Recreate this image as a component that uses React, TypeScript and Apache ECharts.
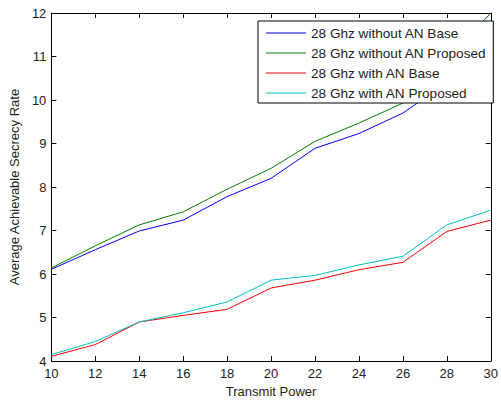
import React, { useEffect, useRef } from "react";
import * as echarts from "echarts";

const xValues = [10, 12, 14, 16, 18, 20, 22, 24, 26, 28, 30];
const withoutANBase = [6.11, 6.56, 6.99, 7.24, 7.78, 8.2, 8.89, 9.23, 9.7, 10.4, 11.09];
const withoutANProposed = [6.14, 6.65, 7.13, 7.43, 7.95, 8.43, 9.05, 9.47, 9.93, 10.9, 12.0];
const withANBase = [4.11, 4.38, 4.9, 5.05, 5.19, 5.68, 5.86, 6.1, 6.27, 6.98, 7.24];
const withANProposed = [4.15, 4.45, 4.9, 5.11, 5.36, 5.86, 5.97, 6.21, 6.41, 7.13, 7.47];
const seriesNames = [
  "28 Ghz without AN Base",
  "28 Ghz without AN Proposed",
  "28 Ghz with AN Base",
  "28 Ghz with AN Proposed",
];
const seriesColors = ["#0000ff", "#008000", "#ff0000", "#00bfbf"];

const FONT = "Liberation Sans";

export default function App() {
  const ref = useRef<HTMLDivElement>(null);
  useEffect(() => {
    document.body.style.margin = "0";
    const chart = echarts.init(ref.current!, null, { renderer: "svg" });
    const all = [withoutANBase, withoutANProposed, withANBase, withANProposed];
    const tickStyle = { show: true, inside: true, length: 5, lineStyle: { color: "#000", width: 1 } };
    const lineStyle = { color: "#000", width: 1 };
    chart.setOption({
      animation: false,
      backgroundColor: "#fff",
      textStyle: { fontFamily: FONT },
      grid: { left: 49, right: 5, top: 13, bottom: 37 },
      legend: {
        orient: "vertical",
        left: 258,
        top: 21,
        padding: [5, 7, 3, 8],
        itemGap: 6,
        itemWidth: 40,
        itemHeight: 1.2,
        icon: "rect",
        backgroundColor: "#fff",
        borderColor: "#000",
        borderWidth: 1,
        textStyle: { fontFamily: FONT, fontSize: 13.6, color: "#222" },
        data: seriesNames.map((n, i) => ({ name: n, itemStyle: { color: seriesColors[i] } })),
      },
      xAxis: [
        {
          type: "value",
          min: 10,
          max: 30,
          interval: 2,
          name: "Transmit Power",
          nameLocation: "middle",
          nameGap: 18,
          nameTextStyle: { fontFamily: FONT, fontSize: 13, color: "#222" },
          axisLine: { show: true, onZero: false, lineStyle },
          axisTick: tickStyle,
          axisLabel: { fontFamily: FONT, fontSize: 13, color: "#222", margin: 6 },
          splitLine: { show: false },
        },
        {
          type: "value",
          position: "top",
          min: 10,
          max: 30,
          interval: 2,
          axisLine: { show: true, onZero: false, lineStyle },
          axisTick: tickStyle,
          axisLabel: { show: false },
          splitLine: { show: false },
        },
      ],
      yAxis: [
        {
          type: "value",
          min: 4,
          max: 12,
          interval: 1,
          name: "Average Achievable Secrecy Rate",
          nameLocation: "middle",
          nameGap: 25,
          nameTextStyle: { fontFamily: FONT, fontSize: 13, color: "#222" },
          axisLine: { show: true, onZero: false, lineStyle },
          axisTick: tickStyle,
          axisLabel: { fontFamily: FONT, fontSize: 13, color: "#222", margin: 5 },
          splitLine: { show: false },
        },
        {
          type: "value",
          position: "right",
          min: 4,
          max: 12,
          interval: 1,
          axisLine: { show: true, onZero: false, lineStyle },
          axisTick: tickStyle,
          axisLabel: { show: false },
          splitLine: { show: false },
        },
      ],
      series: all.map((vals, i) => ({
        name: seriesNames[i],
        type: "line",
        xAxisIndex: 0,
        yAxisIndex: 0,
        data: xValues.map((x, j) => [x, vals[j]]),
        symbol: "none",
        showSymbol: false,
        clip: true,
        lineStyle: { color: seriesColors[i], width: 1 },
        itemStyle: { color: seriesColors[i] },
      })),
    });
    return () => chart.dispose();
  }, []);
  return <div ref={ref} style={{ width: 501, height: 403 }} />;
}
